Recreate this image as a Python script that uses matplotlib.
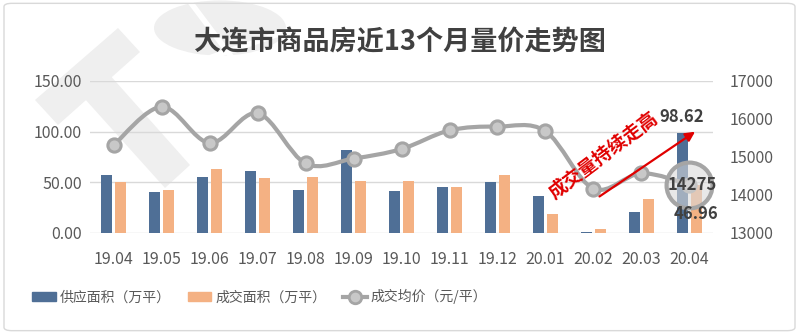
import numpy as np
import matplotlib
matplotlib.use("Agg")
import matplotlib.pyplot as plt
from matplotlib.path import Path
from matplotlib.patches import PathPatch, Polygon, Wedge, FancyBboxPatch, Patch
from matplotlib.lines import Line2D

plt.rcParams['font.family'] = ['Noto Sans CJK SC', 'DejaVu Sans']

months = ['19.04', '19.05', '19.06', '19.07', '19.08', '19.09', '19.10',
          '19.11', '19.12', '20.01', '20.02', '20.03', '20.04']
supply = [57, 40, 55, 61, 42, 82, 41, 45, 50, 37, 1, 21, 98.62]
deal = [50, 42, 63, 54, 55, 51, 51, 45, 57, 19, 4, 34, 46.96]
price = [15320, 16320, 15370, 16150, 14830, 14960, 15210,
         15700, 15800, 15680, 14170, 14570, 14275]

c_blue = '#4f6f96'
c_orange = '#f4b183'
c_gray = '#a5a5a5'
c_text = '#595959'
c_wm = '#efefef'

fig = plt.figure(figsize=(7.99, 3.34), dpi=100)

# faint watermark logo behind the chart (pixel coords, y down)
W, H = 799, 334
def px(pts):
    return [(a / W, 1 - b / H) for a, b in pts]

fig.patches.append(Wedge((220 / W, 1 - 28 / H), 66 / W, 0, 360,
                         transform=fig.transFigure, fc=c_wm, ec='none', zorder=-2))
fig.patches.append(Polygon(px([(35, 100), (118, 28), (140, 52), (58, 125)]),
                           transform=fig.transFigure, fc=c_wm, ec='none', zorder=-2))
fig.patches.append(Polygon(px([(75, 88), (100, 64), (190, 165), (165, 188)]),
                           transform=fig.transFigure, fc=c_wm, ec='none', zorder=-2))
for seg in [[(160, 75), (290, 30)], [(185, -5), (260, 95)]]:
    fig.lines.append(Line2D([seg[0][0] / W, seg[1][0] / W],
                            [1 - seg[0][1] / H, 1 - seg[1][1] / H],
                            transform=fig.transFigure, color='white', lw=4, zorder=-1))

ax = fig.add_axes([0.1126, 0.3024, 0.780, 0.4551])
ax.patch.set_alpha(0)
ax2 = ax.twinx()
ax.set_zorder(1)
ax2.set_zorder(2)
ax2.patch.set_alpha(0)

x = np.arange(len(months))
w = 0.23
ax.bar(x - 0.145, supply, w, color=c_blue, zorder=2)
ax.bar(x + 0.145, deal, w, color=c_orange, zorder=2)

ax.set_xlim(-0.5, len(months) - 0.5)
ax.set_ylim(0, 150)
ax.set_yticks([0, 50, 100, 150])
ax.set_yticklabels(['%.2f' % v for v in [0, 50, 100, 150]])
ax.set_xticks(x)
ax.set_xticklabels(months)
ax.grid(axis='y', color='#d9d9d9', lw=1, zorder=0)
ax.set_axisbelow(True)
for s in ax.spines.values():
    s.set_visible(False)
for s in ax2.spines.values():
    s.set_visible(False)
ax.tick_params(length=0, labelsize=11.5, labelcolor=c_text, pad=6)
ax.tick_params(axis='x', pad=13)
ax2.set_ylim(13000, 17000)
ax2.set_yticks([13000, 14000, 15000, 16000, 17000])
ax2.tick_params(length=0, labelsize=11.5, labelcolor=c_text, pad=12)

# smoothed line (Excel style) as bezier path
pts = np.column_stack([x, price]).astype(float)
verts = [pts[0]]
codes = [Path.MOVETO]
n = len(pts)
for i in range(n - 1):
    p0 = pts[max(i - 1, 0)]
    p1 = pts[i]
    p2 = pts[i + 1]
    p3 = pts[min(i + 2, n - 1)]
    c1 = p1 + (p2 - p0) / 6
    c2 = p2 - (p3 - p1) / 6
    verts += [c1, c2, p2]
    codes += [Path.CURVE4] * 3
ax2.add_patch(PathPatch(Path(verts, codes), fc='none', ec=c_gray, lw=3, zorder=3))
ax2.plot(x, price, 'o', ms=9.5, mfc='#c8c8c8', mec=c_gray, mew=2.2, zorder=4)

# highlight circle on last point
ax2.plot([x[-1]], [price[-1]], 'o', ms=33, mfc=(0.85, 0.85, 0.85, 0.6),
         mec=c_gray, mew=3, zorder=5)

ax2.text(11.84, 13000 + 114.5 / 150 * 4000, '98.62', fontsize=12, fontweight='bold',
         color='#404040', ha='center', va='center', zorder=6)
ax2.text(12.07, price[-1], '14275', fontsize=12, fontweight='bold', color='#404040',
         ha='center', va='center', zorder=6)
ax2.text(12.15, 13000 + 18.5 / 150 * 4000, '46.96', fontsize=12, fontweight='bold',
         color='#404040', ha='center', va='center', zorder=6)

ax2.annotate('', xy=(12.17, 13000 + 101.5 / 150 * 4000), xytext=(10.08, 13000 + 34.5 / 150 * 4000),
             arrowprops=dict(arrowstyle='-|>', color='#e00000', lw=1.6,
                             mutation_scale=14), zorder=6)
ax2.text(10.2, 13000 + 77 / 150 * 4000, '成交量持续走高', fontsize=13.5, fontweight='bold',
         color='#e00000', rotation=37, ha='center', va='center',
         rotation_mode='anchor', zorder=6)

fig.text(0.5, 0.873, '大连市商品房近13个月量价走势图', fontsize=19.5, fontweight='bold',
         color='#404040', ha='center', va='center')

handles = [Patch(color=c_blue), Patch(color=c_orange),
           Line2D([], [], color=c_gray, lw=3, marker='o', ms=9, mfc='#c8c8c8',
                  mec=c_gray, mew=2)]
labels = ['供应面积（万平）', '成交面积（万平）', '成交均价（元/平）']
fig.legend(handles, labels, loc='center', bbox_to_anchor=(0.325, 0.111), ncol=3,
           frameon=False, fontsize=10, labelcolor=c_text, handlelength=1.7,
           handletextpad=0.3, columnspacing=1.2)

fig.patches.append(FancyBboxPatch((0.005, 0.01), 0.99, 0.98, boxstyle='round,pad=0,rounding_size=0.01',
                                  transform=fig.transFigure, fc='none', ec='#d9d9d9', lw=1))

fig.savefig('out.png', dpi=100)
